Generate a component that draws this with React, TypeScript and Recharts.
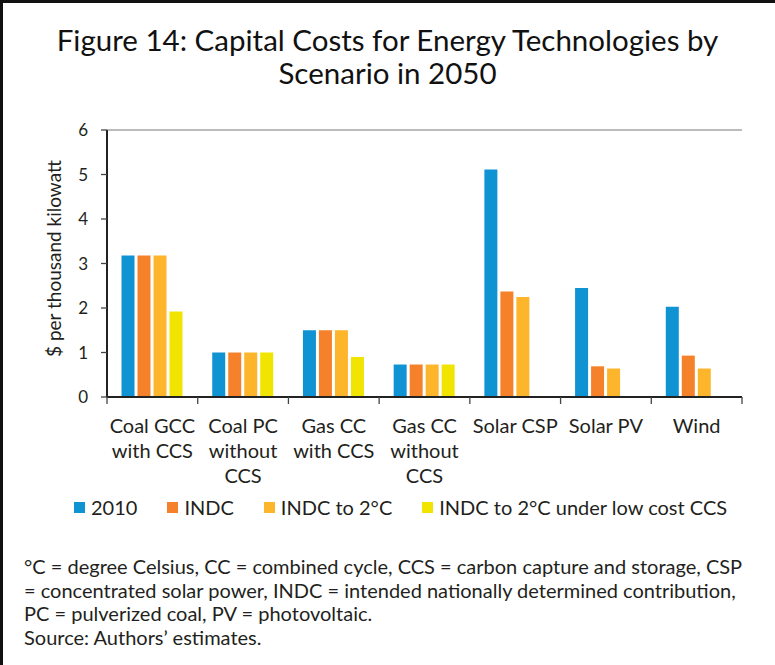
import React from 'react'
import { BarChart, Bar, XAxis, YAxis, Legend, ReferenceLine, Label } from 'recharts'

const categories = [
  'Coal GCC\nwith CCS',
  'Coal PC\nwithout\nCCS',
  'Gas CC\nwith CCS',
  'Gas CC\nwithout\nCCS',
  'Solar CSP',
  'Solar PV',
  'Wind',
]
const seriesNames = ['2010', 'INDC', 'INDC to 2°C', 'INDC to 2°C under low cost CCS']
const values2010 = [3.18, 1.0, 1.5, 0.73, 5.11, 2.45, 2.03]
const valuesIndc = [3.18, 1.0, 1.5, 0.73, 2.37, 0.69, 0.93]
const valuesIndc2c = [3.18, 1.0, 1.5, 0.73, 2.25, 0.64, 0.64]
const valuesLowCcs = [1.92, 1.0, 0.9, 0.73, null, null, null]
const yTicks = [0, 1, 2, 3, 4, 5, 6]
const colors = ['#1093D3', '#F5822A', '#FDB52B', '#F1E400']

const title = ['Figure 14: Capital Costs for Energy Technologies by', 'Scenario in 2050']
const notes = [
  '°C = degree Celsius, CC = combined cycle, CCS = carbon capture and storage, CSP',
  '= concentrated solar power, INDC = intended nationally determined contribution,',
  'PC = pulverized coal, PV = photovoltaic.',
  'Source: Authors’ estimates.',
]

const FONT = 'Lato, "Open Sans", sans-serif'
const TEXT = '#231F20'
const W = 775
const PLOT_LEFT = 107
const PLOT_RIGHT = 742
const BAND = (PLOT_RIGHT - PLOT_LEFT) / categories.length

const data = categories.map((name, i) => ({
  name,
  s0: values2010[i],
  s1: valuesIndc[i],
  s2: valuesIndc2c[i],
  s3: valuesLowCcs[i],
}))

// labels centred under each group, tick marks on the group edges
function CategoryTick({ x, y, payload, index }: any) {
  const lines = String(payload.value).split('\n')
  const left = x - BAND / 2
  return (
    <g>
      <line x1={left} x2={left} y1={y} y2={y + 7} stroke="#444" strokeWidth={1.3} />
      {index === categories.length - 1 && (
        <line x1={x + BAND / 2} x2={x + BAND / 2} y1={y} y2={y + 7} stroke="#444" strokeWidth={1.3} />
      )}
      <text x={x} y={y + 36} textAnchor="middle" fontSize={20} fontFamily={FONT} fill={TEXT}>
        {lines.map((l, i) => (
          <tspan key={i} x={x} dy={i === 0 ? 0 : 25}>{l}</tspan>
        ))}
      </text>
    </g>
  )
}

function LegendContent() {
  return (
    <div style={{ display: 'flex', alignItems: 'center', height: 30, paddingLeft: 74, fontFamily: FONT, fontSize: 20, color: TEXT }}>
      {seriesNames.map((n, i) => (
        <div key={n} style={{ display: 'flex', alignItems: 'center', marginRight: 30 }}>
          <span style={{ display: 'inline-block', width: 11, height: 11, background: colors[i], marginRight: 6 }} />
          <span>{n}</span>
        </div>
      ))}
    </div>
  )
}

export default function App() {
  return (
    <div style={{ position: 'absolute', left: 0, top: 0, width: W, height: 665, background: '#fff', overflow: 'hidden' }}>
      <div style={{ position: 'absolute', left: 0, top: 0, width: W, height: 665, borderTop: '3px solid #111', borderLeft: '3px solid #111', boxSizing: 'border-box' }} />
      <div style={{ position: 'absolute', left: 0, top: 23, width: W, textAlign: 'center', fontFamily: FONT, fontSize: 29.5, lineHeight: '33px', color: '#111' }}>
        {title.map((t) => <div key={t}>{t}</div>)}
      </div>
      <div style={{ position: 'absolute', left: 0, top: 0 }}>
        <BarChart
          width={W}
          height={530}
          data={data}
          margin={{ top: 130, right: W - PLOT_RIGHT, left: 0, bottom: 8 }}
          barCategoryGap="16%"
          barGap={3}
        >
          <ReferenceLine y={6} stroke="#A6A6A6" strokeWidth={1.5} />
          <XAxis
            dataKey="name"
            interval={0}
            height={95}
            tickSize={0}
            tickMargin={0}
            tickLine={false}
            axisLine={{ stroke: '#222', strokeWidth: 2 }}
            tick={<CategoryTick />}
          />
          <YAxis
            width={PLOT_LEFT}
            domain={[0, 6]}
            ticks={yTicks}
            interval={0}
            tickSize={6}
            tickMargin={13}
            axisLine={{ stroke: '#222', strokeWidth: 2 }}
            tickLine={{ stroke: '#444', strokeWidth: 1.3 }}
            tick={{ fontSize: 17, fontFamily: FONT, fill: TEXT }}
          >
            <Label
              value="$ per thousand kilowatt"
              angle={-90}
              position="center"
              dx={1}
              dy={-5}
              style={{ fontSize: 19, fontFamily: FONT, fill: TEXT }}
            />
          </YAxis>
          <YAxis
            yAxisId="r"
            orientation="right"
            width={0}
            domain={[0, 6]}
            tick={false}
            tickLine={false}
            axisLine={{ stroke: '#A6A6A6', strokeWidth: 1.5 }}
          />
          <Legend verticalAlign="bottom" content={<LegendContent />} wrapperStyle={{ left: 0, width: W }} />
          {seriesNames.map((n, i) => (
            <Bar key={n} dataKey={`s${i}`} name={n} fill={colors[i]} isAnimationActive={false} />
          ))}
        </BarChart>
      </div>
      <div style={{ position: 'absolute', left: 24, top: 555, fontFamily: FONT, fontSize: 20, lineHeight: '23.5px', color: TEXT }}>
        {notes.map((t) => <div key={t}>{t}</div>)}
      </div>
    </div>
  )
}
